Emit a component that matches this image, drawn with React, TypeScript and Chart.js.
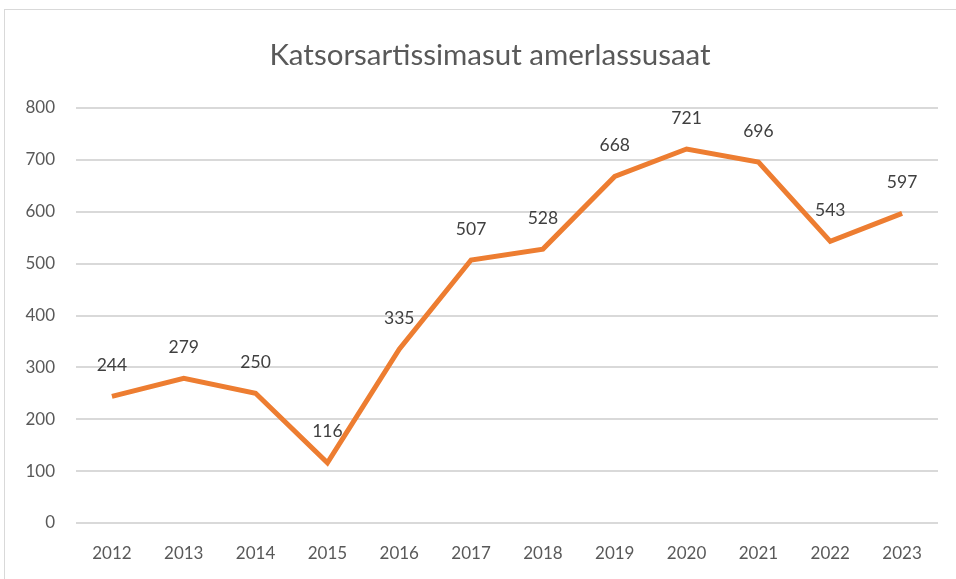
import React, { useEffect, useRef } from "react";
import { Chart, registerables } from "chart.js";

Chart.register(...registerables);

const years = ["2012", "2013", "2014", "2015", "2016", "2017", "2018", "2019", "2020", "2021", "2022", "2023"];
const counts = [244, 279, 250, 116, 335, 507, 528, 668, 721, 696, 543, 597];
const yTicks = [0, 100, 200, 300, 400, 500, 600, 700, 800];
const titleText = "Katsorsartissimasut amerlassusaat";

const FONT = "Lato, 'Open Sans', 'DejaVu Sans', sans-serif";

export default function App() {
  const ref = useRef<HTMLCanvasElement | null>(null);

  useEffect(() => {
    if (!ref.current) return;
    const frame = {
      id: "frame",
      beforeDraw(chart: any) {
        const ctx = chart.ctx;
        ctx.save();
        ctx.fillStyle = "#ffffff";
        ctx.fillRect(0, 0, chart.width, chart.height);
        ctx.strokeStyle = "#d9d9d9";
        ctx.lineWidth = 1;
        ctx.strokeRect(4.5, 9.5, chart.width + 20, chart.height + 20);
        ctx.fillStyle = "#595959";
        ctx.font = `29.5px ${FONT}`;
        ctx.textAlign = "center";
        ctx.textBaseline = "middle";
        ctx.fillText(titleText, 490, 55);
        ctx.restore();
      },
    };
    const labels = {
      id: "labels",
      afterDatasetsDraw(chart: any) {
        const ctx = chart.ctx;
        const meta = chart.getDatasetMeta(0);
        ctx.save();
        ctx.fillStyle = "#404040";
        ctx.font = `17.5px ${FONT}`;
        ctx.textAlign = "center";
        ctx.textBaseline = "middle";
        meta.data.forEach((pt: any, i: number) => {
          ctx.fillText(String(counts[i]), pt.x, pt.y - 31);
        });
        ctx.restore();
      },
    };
    const chart = new Chart(ref.current, {
      type: "line",
      data: {
        labels: years,
        datasets: [
          {
            data: counts,
            borderColor: "#ED7D31",
            borderWidth: 5,
            pointRadius: 0,
            tension: 0,
            fill: false,
          },
        ],
      },
      options: {
        animation: false,
        responsive: false,
        layout: { padding: { top: 108, left: 0, right: 18, bottom: 0 } },
        plugins: {
          legend: { display: false },
          tooltip: { enabled: false },
          title: { display: false },
        },
        scales: {
          x: {
            offset: true,
            grid: { display: false, drawTicks: false },
            border: { display: false },
            ticks: { color: "#595959", font: { family: FONT, size: 17 }, padding: 20, maxRotation: 0 },
            afterFit: (s: any) => {
              s.height = 56;
            },
          },
          y: {
            min: 0,
            max: 800,
            afterBuildTicks: (s: any) => {
              s.ticks = yTicks.map((v) => ({ value: v }));
            },
            grid: { color: "#d9d9d9", lineWidth: 2, drawTicks: false },
            border: { display: false },
            ticks: { color: "#595959", font: { family: FONT, size: 17 }, padding: 21 },
            afterFit: (s: any) => {
              s.width = 76;
            },
          },
        },
      },
      plugins: [frame, labels],
    });
    return () => chart.destroy();
  }, []);

  return (
    <div style={{ position: "fixed", left: 0, top: 0, width: 956, height: 579 }}>
      <canvas ref={ref} width={956} height={579} style={{ display: "block" }} />
    </div>
  );
}
